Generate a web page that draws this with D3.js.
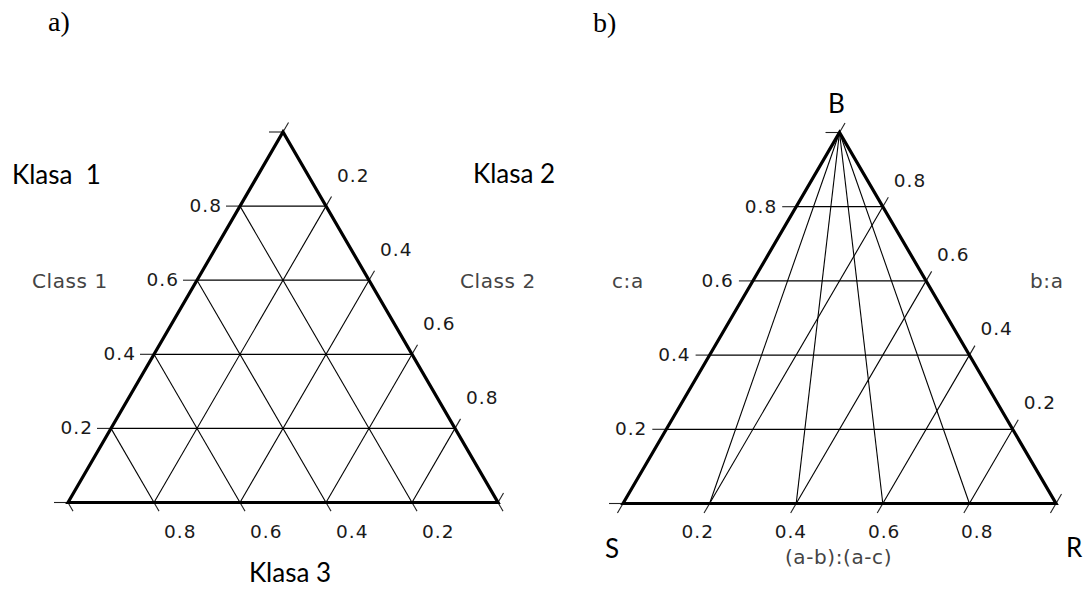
<!DOCTYPE html>
<html>
<head>
<meta charset="utf-8">
<script src="https://cdn.jsdelivr.net/npm/d3@7"></script>
<style>
	body { margin: 0; background: #fff; }
	.tick-label { font-family: "DejaVu Sans", sans-serif; font-size: 18.5px; fill: #1a1a1a; letter-spacing: 1px; }
	.axis-name { font-family: "DejaVu Sans", sans-serif; font-size: 20px; fill: #444; letter-spacing: 0.6px; }
	.klasa { font-family: Lato, "Open Sans", sans-serif; font-size: 26px; fill: #000; white-space: pre; }
	.panel-tag { font-family: "Liberation Serif", serif; font-size: 28px; fill: #000; }
</style>
</head>
<body>
<div id="chart"></div>
<script>

// grid levels used by both triangles
var gridLevels = [0.2, 0.4, 0.6, 0.8];

// a) labels, listed by grid level (bottom to top, left to right)
var aLeftLabels = ["0.2", "0.4", "0.6", "0.8"];
var aRightLabels = ["0.8", "0.6", "0.4", "0.2"];
var aBottomLabels = ["0.8", "0.6", "0.4", "0.2"];
var aCornerNames = ["Klasa  1", "Klasa 2", "Klasa 3"];
var aSideNames = ["Class 1", "Class 2"];

// b) labels, same ordering
var bLeftLabels = ["0.2", "0.4", "0.6", "0.8"];
var bRightLabels = ["0.2", "0.4", "0.6", "0.8"];
var bBottomLabels = ["0.2", "0.4", "0.6", "0.8"];
var bRayTargets = [0.2, 0.4, 0.6, 0.8];   // base points joined to B
var bCornerNames = ["S", "B", "R"];
var bSideNames = ["c:a", "b:a", "(a-b):(a-c)"];

var width = 1084, height = 589;

// pixel box of each triangle
var boxA = {left: 68, right: 498, base: 502.5, top: 132};
var boxB = {left: 623, right: 1056, base: 503.5, top: 132.5};

var svg = d3.select("#chart").append("svg")
	.attr("width", width)
	.attr("height", height);


// triangle helper: u = position along the base, h = height (both 0..1)
function triangle(box){
	var x = d3.scaleLinear().domain([0, 1]).range([box.left, box.right]);
	var y = d3.scaleLinear().domain([0, 1]).range([box.base, box.top]);
	var t = {};
	t.x = x; t.y = y;
	t.pt = function(u, h){ return [x(u), y(h)]; };
	t.leftPt = function(h){ return t.pt(h / 2, h); };
	t.rightPt = function(h){ return t.pt(1 - h / 2, h); };
	t.basePt = function(u){ return t.pt(u, 0); };
	t.apex = t.pt(0.5, 1);
	// unit vectors in pixel space
	var a = t.pt(0, 0), b = t.pt(0.5, 1), c = t.pt(1, 0);
	var l1 = Math.hypot(b[0] - a[0], b[1] - a[1]);
	var l2 = Math.hypot(c[0] - b[0], c[1] - b[1]);
	t.upRight = [(b[0] - a[0]) / l1, (b[1] - a[1]) / l1];    // along left edge
	t.downRight = [(c[0] - b[0]) / l2, (c[1] - b[1]) / l2];  // along right edge
	return t;
}

function seg(g, p, q, cls){
	g.append("line")
		.attr("x1", p[0]).attr("y1", p[1])
		.attr("x2", q[0]).attr("y2", q[1])
		.attr("class", cls);
}

function tick(g, p, dir, len){
	seg(g, p, [p[0] + dir[0] * len, p[1] + dir[1] * len], "tick");
}

function drawFrame(g, tri){
	var line = d3.line();
	g.append("path")
		.attr("d", line([tri.basePt(0), tri.apex, tri.basePt(1)]) + "Z")
		.attr("fill", "none")
		.attr("stroke", "#000")
		.attr("stroke-width", 3.2)
		.attr("stroke-linejoin", "miter");
}

function style(g){
	g.selectAll("line.grid").attr("stroke", "#000").attr("stroke-width", 1.1);
	g.selectAll("line.hgrid").attr("stroke", "#000").attr("stroke-width", 1.3);
	g.selectAll("line.tick").attr("stroke", "#222").attr("stroke-width", 1.1);
}

function labels(g, data, pos, anchor){
	g.selectAll(null)
		.data(data)
		.enter().append("text")
		.attr("class", "tick-label")
		.attr("text-anchor", anchor)
		.attr("x", function(d, i){ return pos(i)[0]; })
		.attr("y", function(d, i){ return pos(i)[1]; })
		.text(function(d){ return d; });
}

var ends = [0].concat(gridLevels, [1]);


// ---------- a) ----------
var triA = triangle(boxA);
var gA = svg.append("g");

gridLevels.forEach(function(h){
	seg(gA, triA.leftPt(h), triA.rightPt(h), "hgrid");
	// parallel to the left edge, from the base up to the right edge
	seg(gA, triA.basePt(h), triA.pt((1 + h) / 2, 1 - h), "grid");
	// parallel to the right edge, from the base up to the left edge
	seg(gA, triA.basePt(h), triA.pt(h / 2, h), "grid");
});

ends.forEach(function(h){
	tick(gA, triA.leftPt(h), [-1, 0], 14);
	tick(gA, triA.rightPt(h), triA.upRight, 11);
	tick(gA, triA.basePt(h), triA.downRight, 10);
});
style(gA);
drawFrame(gA, triA);

labels(gA, aLeftLabels, function(i){ var p = triA.leftPt(gridLevels[i]); return [p[0] - 18, p[1] + 6]; }, "end");
labels(gA, aRightLabels, function(i){ var p = triA.rightPt(gridLevels[i]); return [p[0] + 11, p[1] - 24]; }, "start");
labels(gA, aBottomLabels, function(i){ var p = triA.basePt(gridLevels[i]); return [p[0] + 10, p[1] + 35]; }, "start");

gA.append("text").attr("class", "panel-tag").attr("x", 48).attr("y", 31).text("a)");
gA.append("text").attr("class", "klasa").attr("x", 12).attr("y", 184).text(aCornerNames[0]);
gA.append("text").attr("class", "klasa").attr("x", 473).attr("y", 183).text(aCornerNames[1]);
gA.append("text").attr("class", "klasa").attr("text-anchor", "middle")
	.attr("x", triA.x(0.5) + 7).attr("y", 582).text(aCornerNames[2]);
gA.append("text").attr("class", "axis-name").attr("x", 32).attr("y", 288).text(aSideNames[0]);
gA.append("text").attr("class", "axis-name").attr("x", 460).attr("y", 288).text(aSideNames[1]);


// ---------- b) ----------
var triB = triangle(boxB);
var gB = svg.append("g");

gridLevels.forEach(function(h){
	seg(gB, triB.leftPt(h), triB.rightPt(h), "hgrid");
	seg(gB, triB.basePt(h), triB.pt((1 + h) / 2, 1 - h), "grid");
});
bRayTargets.forEach(function(u){
	seg(gB, triB.apex, triB.basePt(u), "grid");
});

ends.forEach(function(h){
	tick(gB, triB.leftPt(h), [-1, 0], 14);
	tick(gB, triB.rightPt(h), triB.upRight, 11);
	tick(gB, triB.basePt(h), [-triB.upRight[0], -triB.upRight[1]], 11);
});
style(gB);
drawFrame(gB, triB);

labels(gB, bLeftLabels, function(i){ var p = triB.leftPt(gridLevels[i]); return [p[0] - 19, p[1] + 6]; }, "end");
labels(gB, bRightLabels, function(i){ var p = triB.rightPt(gridLevels[i]); return [p[0] + 11, p[1] - 20]; }, "start");
labels(gB, bBottomLabels, function(i){
	var u = gridLevels[i], p = triB.basePt(u);
	return [p[0] + 33 * (u - 0.5) - 2, p[1] + 34];
}, "middle");

gB.append("text").attr("class", "panel-tag").attr("x", 593).attr("y", 32).text("b)");
gB.append("text").attr("class", "klasa").attr("text-anchor", "middle")
	.attr("x", triB.x(0) - 11).attr("y", 558).text(bCornerNames[0]);
gB.append("text").attr("class", "klasa").attr("text-anchor", "middle")
	.attr("x", triB.apex[0] - 3).attr("y", 113).text(bCornerNames[1]);
gB.append("text").attr("class", "klasa")
	.attr("x", triB.x(1) + 10).attr("y", 557).text(bCornerNames[2]);
gB.append("text").attr("class", "axis-name").attr("x", 612).attr("y", 288).text(bSideNames[0]);
gB.append("text").attr("class", "axis-name").attr("x", 1030).attr("y", 288).text(bSideNames[1]);
gB.append("text").attr("class", "axis-name").attr("text-anchor", "middle")
	.attr("x", triB.x(0.5) - 1).attr("y", 564).text(bSideNames[2]);

</script>
</body>
</html>
